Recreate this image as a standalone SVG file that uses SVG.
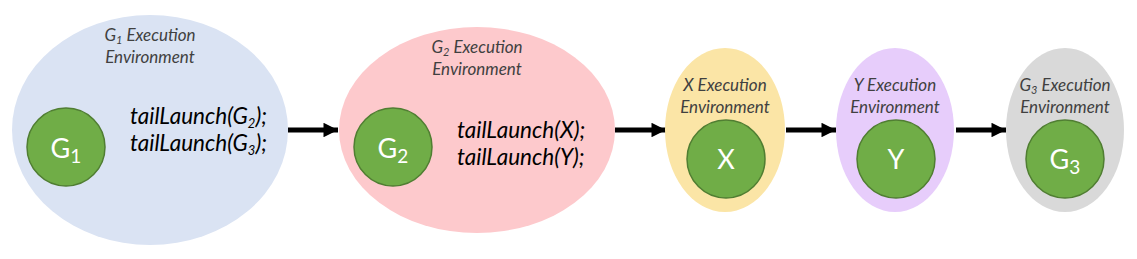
<svg xmlns="http://www.w3.org/2000/svg" width="1137" height="259" viewBox="0 0 1137 259">
<defs>
<style>
.env{stroke:none}
.core{fill:#70ad47;stroke:#507e32;stroke-width:1.5}
.lbl{font-family:Lato,"Open Sans","Liberation Sans",sans-serif;font-style:italic;font-size:17px;fill:#404040;text-anchor:middle}
.code{font-family:Lato,"Open Sans","Liberation Sans",sans-serif;font-style:italic;font-size:22.5px;fill:#000}
.nm{font-family:Lato,"Open Sans","Liberation Sans",sans-serif;font-size:27px;fill:#fff;text-anchor:middle}
.con{stroke:#000;stroke-width:5;fill:none;marker-end:url(#ah)}
</style>
<marker id="ah" viewBox="0 0 10 10" refX="10" refY="5" markerWidth="3" markerHeight="2.9" orient="auto" markerUnits="strokeWidth">
<path d="M0,0 L10,5 L0,10 z" fill="#000"/>
</marker>
</defs>
<rect width="1137" height="259" fill="#fff"/>

<g id="connectors">
<path class="con" d="M288,130 L338,130"/>
<path class="con" d="M615,130 L666,130"/>
<path class="con" d="M786,130 L836,130"/>
<path class="con" d="M956,130 L1006,130"/>
</g>

<g id="g1env">
<ellipse class="env" cx="150" cy="130" rx="138" ry="115" fill="#dae3f3"/>
<text class="lbl" x="150" y="41">G<tspan font-size="11" dy="3">1</tspan><tspan dy="-3"> Execution</tspan></text>
<text class="lbl" x="150" y="63">Environment</text>
<text class="code" x="130" y="124">tailLaunch(G<tspan font-size="13" dy="4">2</tspan><tspan dy="-4">);</tspan></text>
<text class="code" x="130" y="151">tailLaunch(G<tspan font-size="13" dy="4">3</tspan><tspan dy="-4">);</tspan></text>
</g>
<g id="g1">
<circle class="core" cx="66" cy="147" r="39"/>
<text class="nm" x="66" y="158">G<tspan font-size="19" dy="5">1</tspan></text>
</g>

<g id="g2env">
<ellipse class="env" cx="477" cy="130" rx="138" ry="103" fill="#fdc9cc"/>
<text class="lbl" x="477" y="53">G<tspan font-size="11" dy="3">2</tspan><tspan dy="-3"> Execution</tspan></text>
<text class="lbl" x="477" y="75">Environment</text>
<text class="code" x="457" y="138">tailLaunch(X);</text>
<text class="code" x="457" y="165">tailLaunch(Y);</text>
</g>
<g id="g2">
<circle class="core" cx="393" cy="147" r="39"/>
<text class="nm" x="393" y="158">G<tspan font-size="19" dy="5">2</tspan></text>
</g>

<g id="xenv">
<ellipse class="env" cx="725" cy="130" rx="60" ry="82" fill="#fbe5a6"/>
<text class="lbl" x="725" y="91">X Execution</text>
<text class="lbl" x="725" y="113">Environment</text>
</g>
<g id="x">
<circle class="core" cx="726" cy="159" r="39"/>
<text class="nm" x="726" y="169">X</text>
</g>

<g id="yenv">
<ellipse class="env" cx="895" cy="130" rx="59" ry="82" fill="#e7cdfb"/>
<text class="lbl" x="895" y="91">Y Execution</text>
<text class="lbl" x="895" y="113">Environment</text>
</g>
<g id="y">
<circle class="core" cx="896" cy="159" r="39"/>
<text class="nm" x="896" y="169">Y</text>
</g>

<g id="g3env">
<ellipse class="env" cx="1065" cy="130" rx="59" ry="82" fill="#d9d9d9"/>
<text class="lbl" x="1065" y="91">G<tspan font-size="11" dy="3">3</tspan><tspan dy="-3"> Execution</tspan></text>
<text class="lbl" x="1065" y="113">Environment</text>
</g>
<g id="g3">
<circle class="core" cx="1065" cy="159" r="39"/>
<text class="nm" x="1065" y="169">G<tspan font-size="19" dy="5">3</tspan></text>
</g>
</svg>
